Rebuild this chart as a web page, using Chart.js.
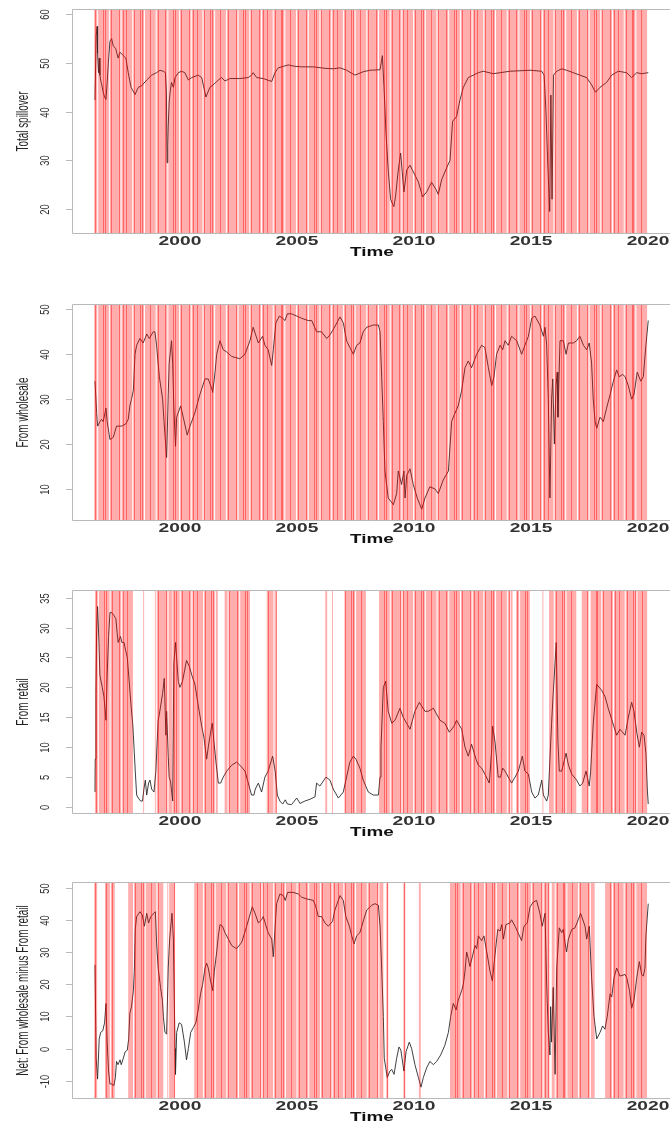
<!DOCTYPE html>
<html>
<head>
<meta charset="utf-8">
<script src="https://cdn.jsdelivr.net/npm/chart.js@4.4.1/dist/chart.umd.min.js"></script>
<style>
  body { margin: 0; background: #fff; width: 670px; height: 1124px; overflow: hidden; position: relative; }
  canvas { position: absolute; left: 0; }
</style>
</head>
<body>
<canvas id="pTotal" width="670" height="268" style="top:0px"></canvas>
<canvas id="pWholesale" width="670" height="260" style="top:295px"></canvas>
<canvas id="pRetail" width="670" height="267" style="top:581px"></canvas>
<canvas id="pNet" width="670" height="260" style="top:873px"></canvas>
<script>
// ---- series -------------------------------------------------------------
var timeTotal = [1996.37,1996.42,1996.46,1996.48,1996.52,1996.55,1996.58,1996.61,1996.66,1996.72,1996.78,1996.84,1996.89,1996.94,1997.01,1997.08,1997.15,1997.25,1997.36,1997.44,1997.58,1997.69,1997.79,1997.91,1998.08,1998.22,1998.36,1998.58,1998.79,1999.00,1999.15,1999.29,1999.38,1999.42,1999.45,1999.48,1999.50,1999.54,1999.58,1999.64,1999.72,1999.79,1999.93,2000.07,2000.21,2000.36,2000.50,2000.78,2000.93,2001.11,2001.28,2001.42,2001.64,2001.78,2001.92,2002.14,2002.56,2002.92,2003.06,2003.13,2003.28,2003.56,2003.92,2004.06,2004.20,2004.42,2004.63,2004.91,2005.20,2005.70,2006.20,2006.55,2006.84,2007.12,2007.48,2007.83,2008.12,2008.55,2008.65,2008.72,2008.80,2008.90,2009.00,2009.09,2009.14,2009.21,2009.33,2009.43,2009.57,2009.69,2009.83,2010.04,2010.19,2010.37,2010.54,2010.75,2010.94,2011.04,2011.18,2011.40,2011.54,2011.65,2011.82,2011.97,2012.11,2012.32,2012.54,2012.75,2012.96,2013.39,2013.68,2014.10,2014.96,2015.46,2015.56,2015.64,2015.72,2015.80,2015.85,2015.90,2015.96,2016.10,2016.31,2016.52,2016.81,2017.09,2017.38,2017.59,2017.76,2017.95,2018.23,2018.45,2018.73,2019.09,2019.30,2019.52,2019.73,2020.01];
var valTotal = [42.4,55.5,57.5,52,48,51,47.5,46.5,45.5,44,43,42.5,46,50,54.5,55,53.5,53,51,52.2,51.5,51,48,45,43.5,45,45.3,46.5,47.5,48,48.5,48.3,48,44,29.5,33,37,42,44,46,45,47,48,48.3,48,46.5,47,47.5,47,43,45,45.5,46.5,47,46.3,46.8,46.8,47,47.5,48,47,46.8,46.2,48,49,49.3,49.6,49.3,49.2,49.2,48.9,48.8,49,48.5,47.5,48.2,48.5,48.6,51.5,45,36,28,22,21,20.5,22.5,28,31.5,23.5,28,29,27,25.5,22.5,23.5,25.5,24,23,26,28.5,30,38,39,42.5,45,47,47.5,48,48.3,47.8,48,48.3,48.5,48.3,47.5,40,29,19.5,43.4,22,47.5,48.3,48.8,48.5,48,47.5,47,45.5,44,45,46,47.5,48.3,48,47,48,47.8,48];

var timeWholesale = [1996.37,1996.44,1996.48,1996.58,1996.65,1996.72,1996.84,1996.89,1997.01,1997.15,1997.29,1997.51,1997.69,1997.79,1997.86,1997.93,1998.01,1998.08,1998.15,1998.29,1998.43,1998.58,1998.69,1998.86,1998.93,1999.00,1999.12,1999.26,1999.32,1999.43,1999.50,1999.54,1999.64,1999.69,1999.74,1999.81,1999.86,2000.03,2000.14,2000.31,2000.43,2000.64,2000.85,2001.07,2001.21,2001.35,2001.40,2001.50,2001.57,2001.71,2001.85,2002.00,2002.21,2002.56,2002.78,2002.99,2003.13,2003.35,2003.53,2003.63,2003.77,2003.92,2003.99,2004.10,2004.25,2004.39,2004.49,2004.59,2004.77,2004.99,2005.20,2005.48,2005.63,2005.84,2006.05,2006.27,2006.41,2006.55,2006.84,2006.98,2007.12,2007.26,2007.41,2007.55,2007.69,2007.83,2007.98,2008.26,2008.48,2008.55,2008.62,2008.69,2008.76,2008.90,2009.12,2009.26,2009.33,2009.47,2009.57,2009.62,2009.69,2009.83,2009.97,2010.14,2010.33,2010.47,2010.68,2010.90,2011.04,2011.25,2011.47,2011.61,2011.68,2011.89,2012.04,2012.18,2012.32,2012.46,2012.68,2012.89,2013.03,2013.18,2013.32,2013.42,2013.53,2013.68,2013.79,2013.89,2014.03,2014.17,2014.39,2014.60,2014.74,2014.89,2015.03,2015.17,2015.38,2015.53,2015.60,2015.67,2015.74,2015.81,2015.88,2015.93,2016.00,2016.07,2016.12,2016.15,2016.24,2016.38,2016.50,2016.60,2016.81,2016.95,2017.09,2017.24,2017.38,2017.49,2017.59,2017.66,2017.74,2017.81,2017.95,2018.09,2018.23,2018.38,2018.52,2018.66,2018.77,2018.92,2019.02,2019.16,2019.30,2019.40,2019.54,2019.69,2019.80,2019.91,2020.01];
var valWholesale = [34,27,24,25,25.5,25,28,25,21,21.5,24,24,24.5,25.5,28.5,30,32,40,42,43.5,42.5,44.5,43.5,45,45,42,35,30,25,17,31,38,43,38,28,19.5,26,28.5,26,22,24,27,31,34.5,34.5,32.5,31.5,36,40,43,41,40.5,39.5,39,40,43,46,42.5,44,42,41,37.5,41,47,48.5,48,47.5,49,49,48.5,48,47.5,47.5,45,45,43.5,44.3,45.5,48.3,47,43,41.5,40,42,42.5,45,46,46.5,46.5,45,35,25,14,8,6.5,9,14,11,14,8,13,14.5,11,8,5.5,8,10.5,10,9,12,14,25,26,28.5,32,37,38.5,37,40,42,41.5,37,33,35,40,42,41,43,42,44,43,40,42,44,48,48.5,46.5,44,46,42,30,8,30,34.5,20,33,36,26,43,43,40,42.5,42.5,43,44,42,41,42.5,38,30,25,23.5,26,25,28,31,34,36.5,35,35.5,35,33,30,31,36,34,35,42,47.5];

var timeRetail = [1996.37,1996.38,1996.41,1996.44,1996.48,1996.54,1996.58,1996.68,1996.75,1996.84,1996.89,1996.95,1997.01,1997.08,1997.18,1997.26,1997.32,1997.36,1997.46,1997.52,1997.61,1997.69,1997.75,1997.83,1997.91,1997.98,1998.01,1998.05,1998.09,1998.15,1998.22,1998.32,1998.40,1998.46,1998.52,1998.58,1998.66,1998.72,1998.79,1998.89,1998.97,1999.07,1999.12,1999.26,1999.33,1999.40,1999.43,1999.50,1999.54,1999.60,1999.69,1999.74,1999.81,1999.93,2000.00,2000.11,2000.28,2000.40,2000.51,2000.64,2000.78,2000.93,2001.03,2001.14,2001.21,2001.31,2001.38,2001.45,2001.54,2001.64,2001.74,2001.85,2002.00,2002.21,2002.42,2002.56,2002.78,2002.92,2003.06,2003.16,2003.22,2003.35,2003.49,2003.63,2003.77,2003.96,2004.07,2004.16,2004.27,2004.39,2004.50,2004.59,2004.77,2004.99,2005.13,2005.34,2005.56,2005.77,2005.84,2005.98,2006.24,2006.41,2006.55,2006.77,2006.98,2007.12,2007.26,2007.41,2007.52,2007.69,2007.83,2008.05,2008.26,2008.48,2008.55,2008.59,2008.69,2008.79,2008.90,2009.05,2009.19,2009.40,2009.54,2009.83,2010.04,2010.23,2010.47,2010.61,2010.83,2011.11,2011.32,2011.51,2011.71,2011.82,2012.04,2012.18,2012.32,2012.46,2012.65,2012.75,2012.89,2013.03,2013.22,2013.32,2013.36,2013.46,2013.60,2013.70,2013.79,2013.89,2014.03,2014.17,2014.32,2014.46,2014.63,2014.74,2014.89,2015.03,2015.17,2015.31,2015.46,2015.53,2015.67,2015.74,2015.88,2015.95,2016.08,2016.15,2016.21,2016.31,2016.50,2016.60,2016.74,2016.95,2017.09,2017.21,2017.35,2017.49,2017.55,2017.66,2017.81,2018.02,2018.16,2018.30,2018.66,2018.80,2019.02,2019.16,2019.30,2019.40,2019.52,2019.63,2019.73,2019.83,2019.91,2019.97,2020.01];
var valRetail = [2.5,8,19,29.5,33.5,27.5,22,20,18.5,14.5,22,28.5,32.5,32.5,32,31.5,29,27.5,28.5,27.5,27.5,26,25,21,17,14,12,9,6,2,1.5,1,1,3,4.5,2,4,4.5,3,2.5,6,14.5,15.5,19,21.5,12,16,8.5,5,4.2,1,24,27.5,21,20,21,24.5,23.5,22,20.5,17,13.5,11.5,8,10,12.5,14,11,7.5,4,4,5,6,7,7.5,7,6,4,2,2,3,4,2.5,5,6,8.5,6,2,1,0.5,1.2,0.5,0.4,1.5,0.6,1,1.3,1.7,4,3.5,5,4.5,3,1.5,2.5,5,7.5,8.5,8,6.5,4.5,2.5,2,2,5,10,20,21,16,14,14.5,16.5,15,13,16,17.5,16,16,16.5,14.5,14,12.5,13.5,14.5,13,10,8.5,10.5,8,7,6.5,5.5,4,9.5,13.5,11,5,5,6.5,6,5,4,5,6,8.5,6,5.5,2.5,1.5,2,4.5,2,1,2,14,19,27.5,11,6,6,9,7,5.5,4.5,3.5,4,6,3.5,6,14,20.5,19.5,18.5,16.5,12,13,12,15,17.5,16,12.5,10,12.5,12,9,3,0.5];

var timeNet = [1996.37,1996.42,1996.48,1996.55,1996.61,1996.70,1996.78,1996.84,1996.89,1996.95,1997.01,1997.08,1997.18,1997.24,1997.29,1997.35,1997.44,1997.49,1997.58,1997.66,1997.75,1997.81,1997.86,1997.93,1998.01,1998.05,1998.09,1998.15,1998.29,1998.39,1998.48,1998.58,1998.66,1998.75,1998.89,1998.95,1999.00,1999.07,1999.17,1999.25,1999.29,1999.36,1999.43,1999.50,1999.56,1999.66,1999.72,1999.76,1999.79,1999.81,1999.86,1999.97,2000.07,2000.19,2000.28,2000.36,2000.46,2000.57,2000.68,2000.78,2000.88,2000.97,2001.07,2001.14,2001.21,2001.31,2001.40,2001.47,2001.57,2001.64,2001.71,2001.82,2001.92,2002.07,2002.21,2002.42,2002.64,2002.85,2003.09,2003.21,2003.35,2003.49,2003.56,2003.68,2003.77,2003.92,2003.99,2004.06,2004.13,2004.27,2004.42,2004.50,2004.60,2004.84,2005.06,2005.20,2005.41,2005.70,2005.81,2005.91,2006.05,2006.20,2006.34,2006.52,2006.62,2006.84,2006.98,2007.09,2007.24,2007.34,2007.44,2007.55,2007.69,2007.83,2007.98,2008.19,2008.33,2008.48,2008.55,2008.62,2008.69,2008.73,2008.86,2008.97,2009.05,2009.15,2009.26,2009.36,2009.44,2009.57,2009.66,2009.80,2009.90,2010.04,2010.19,2010.30,2010.40,2010.54,2010.68,2010.83,2010.97,2011.14,2011.32,2011.47,2011.57,2011.68,2011.80,2011.89,2012.04,2012.11,2012.18,2012.25,2012.32,2012.39,2012.51,2012.61,2012.68,2012.75,2012.89,2012.99,2013.11,2013.25,2013.35,2013.46,2013.58,2013.68,2013.75,2013.82,2013.93,2014.10,2014.17,2014.32,2014.60,2014.70,2014.84,2014.96,2015.10,2015.24,2015.38,2015.48,2015.60,2015.67,2015.74,2015.81,2015.84,2015.88,2015.95,2016.03,2016.10,2016.21,2016.31,2016.38,2016.45,2016.52,2016.60,2016.74,2016.88,2017.02,2017.12,2017.31,2017.38,2017.49,2017.59,2017.69,2017.81,2017.95,2018.06,2018.16,2018.26,2018.38,2018.45,2018.55,2018.66,2018.80,2019.02,2019.09,2019.21,2019.30,2019.40,2019.52,2019.63,2019.73,2019.80,2019.87,2019.91,2020.01];
var valNet = [26,-3,-9.5,3,5,5.5,8,14,2,-7,-11,-11,-11.5,-9,-4,-5,-3.5,-5,-3,-1,-0.5,3,11,13,18,24,37,41,42.5,41.5,38,42,39,41,42,42.5,33,25,19,15,10,5,4.5,25,34,42,34,14,0,-8,5,8,7.5,2,-3.5,0,5,6.5,8,12,17,20,25,26.5,25,21,18,24,30,35,38.5,38,36,34,32,31,33,38,44,42,39,40,41,38,36,34,28.5,37,45,48,47.5,46,48.5,48.5,48,47,46.5,46,44,41,41,39,38,39.5,43,47.5,46,41,38,35,32.5,35,36,39.5,43,44.5,45,44.5,38,25,10,-3,-9,-7,-6.5,-8,-3,0.5,-0.5,-7,-1,2,0,-5,-9,-12,-9,-6,-4,-5,-4,-2,1,5,10,14,12,15,18,20,24,30,28,25.5,29,32,31,35,33.5,35,30,24,21,29,37,36.5,38.5,34,38.5,39,40,38,33.5,38,39,44,45.5,46,42,38,42,20,5,-2,13,2,19,-8,25,37.5,36,37,33,30,34,37,37.5,40,42,38,34,38,22,10,3,5,7,6,10,17,16,22,25,22.5,23,22,18,12.5,15,22,27,23,22.5,25,35,45];

// shaded periods [from, to] in years, drawn month by month
var shadeTotal = [[1996.38, 2020.0]];
var shadeWholesale = [[1996.38, 2020.0]];
var shadeRetail = [[1996.41,1998.03],[1998.47,1998.47],[1998.97,1999.67],[1999.74,2001.64],[2001.95,2002.99],[2003.75,2004.10],[2006.25,2006.25],[2006.54,2006.54],[2007.07,2007.91],[2008.55,2014.10],[2014.17,2014.17],[2014.41,2014.91],[2015.53,2015.53],[2015.81,2016.95],[2017.21,2017.49],[2017.59,2019.97]];
var shadeNet = [[1996.38,1996.53],[1996.84,1997.24],[1997.83,1999.29],[1999.50,1999.82],[2000.65,2008.72],[2008.86,2008.86],[2009.59,2009.59],[2010.25,2010.33],[2011.58,2015.81],[2015.93,2017.74],[2018.21,2020.0]];

// ticks
var xTicks = [2000, 2005, 2010, 2015, 2020];
var yTicksTotal = [20, 30, 40, 50, 60];
var yTicksWholesale = [10, 20, 30, 40, 50];
var yTicksRetail = [0, 5, 10, 15, 20, 25, 30, 35];
var yTicksNet = [-10, 0, 10, 20, 30, 40, 50];

var panels = [
  { id: 'pTotal', title: 'Total spillover', t: timeTotal, v: valTotal, shade: shadeTotal, yTicks: yTicksTotal, ymin: 15.07, ymax: 60.88, plotH: 223 },
  { id: 'pWholesale', title: 'From wholesale', t: timeWholesale, v: valWholesale, shade: shadeWholesale, yTicks: yTicksWholesale, ymin: 3.1, ymax: 50.96, plotH: 215 },
  { id: 'pRetail', title: 'From retail', t: timeRetail, v: valRetail, shade: shadeRetail, yTicks: yTicksRetail, ymin: -1.0, ymax: 36.1, plotH: 222 },
  { id: 'pNet', title: 'Net: From wholesale minus From retail', t: timeNet, v: valNet, shade: shadeNet, yTicks: yTicksNet, ymin: -15.36, ymax: 51.42, plotH: 215 }
];

var MONTH = 1 / 12;

// shading over the line, then box, rotated y labels and stretched x labels
var decor = {
  id: 'decor',
  afterDatasetsDraw: function(chart) {
    var ctx = chart.ctx, a = chart.chartArea, x = chart.scales.x;
    var shade = chart.options.plugins.decor.shade;
    var h = a.bottom - a.top;
    var half = (x.getPixelForValue(2000 + MONTH) - x.getPixelForValue(2000)) / 2;
    ctx.save();
    ctx.beginPath();
    ctx.rect(a.left, a.top, a.right - a.left, h);
    ctx.clip();

    // pink base, one slot per month; every sixth month keeps a thin white gap
    var red = [];
    ctx.beginPath();
    shade.forEach(function(p) {
      for (var k = 0; p[0] + k * MONTH <= p[1] + 1e-6; k++) {
        var t = p[0] + k * MONTH;
        var m = Math.round(t * 12);
        var px = x.getPixelForValue(t);
        var w = (m % 6 === 0) ? 2 * half - 1 : 2 * half;
        ctx.rect(px - half, a.top, w, h);
        if (m % 4 === 1 || m % 9 === 4) red.push(px);
      }
    });
    ctx.fillStyle = 'rgba(255,0,0,0.32)';
    ctx.fill();

    ctx.fillStyle = 'rgba(255,0,0,0.42)';
    red.forEach(function(px) {
      ctx.fillRect(Math.round(px), a.top, 1, h);
    });
    ctx.restore();
  },
  afterDraw: function(chart) {
    var ctx = chart.ctx, a = chart.chartArea, x = chart.scales.x, y = chart.scales.y;
    var o = chart.options.plugins.decor;
    ctx.save();
    ctx.strokeStyle = '#b9b9b9';
    ctx.lineWidth = 1;
    ctx.beginPath();
    ctx.moveTo(670, a.top - 0.5);
    ctx.lineTo(a.left - 0.5, a.top - 0.5);
    ctx.lineTo(a.left - 0.5, a.bottom + 0.5);
    ctx.lineTo(670, a.bottom + 0.5);
    ctx.stroke();

    ctx.fillStyle = '#333';
    ctx.textAlign = 'center';
    ctx.textBaseline = 'middle';
    o.yTicks.forEach(function(v) {
      var py = Math.round(y.getPixelForValue(v)) + 0.5;
      ctx.beginPath();
      ctx.moveTo(a.left - 7, py);
      ctx.lineTo(a.left, py);
      ctx.stroke();
      ctx.save();
      ctx.translate(45, py);
      ctx.rotate(-Math.PI / 2);
      ctx.scale(0.72, 1);
      ctx.font = '13px "Liberation Sans", Arial, sans-serif';
      ctx.fillText(String(v), 0, 0);
      ctx.restore();
    });

    ctx.save();
    ctx.translate(24, (a.top + a.bottom) / 2);
    ctx.rotate(-Math.PI / 2);
    ctx.scale(0.62, 1);
    ctx.fillStyle = '#222';
    ctx.font = '16px "Liberation Sans", Arial, sans-serif';
    ctx.fillText(o.title, 0, 0);
    ctx.restore();

    xTicks.forEach(function(v) {
      ctx.save();
      ctx.translate(x.getPixelForValue(v), a.bottom + 8.5);
      ctx.scale(1.6, 1);
      ctx.fillStyle = '#333';
      ctx.font = 'bold 12px "Liberation Sans", Arial, sans-serif';
      ctx.fillText(String(v), 0, 0);
      ctx.restore();
    });

    ctx.save();
    ctx.translate(x.getPixelForValue(2008.2), a.bottom + 19.5);
    ctx.scale(1.45, 1);
    ctx.fillStyle = '#111';
    ctx.font = 'bold 13px "Liberation Sans", Arial, sans-serif';
    ctx.fillText('Time', 0, 0);
    ctx.restore();
    ctx.restore();
  }
};

panels.forEach(function(p) {
  var el = document.getElementById(p.id);
  new Chart(el.getContext('2d'), {
    type: 'line',
    data: {
      datasets: [{
        data: p.t.map(function(t, i) { return { x: t, y: p.v[i] }; }),
        borderColor: '#2a2a2a',
        borderWidth: 0.9,
        pointRadius: 0,
        tension: 0,
        fill: false
      }]
    },
    options: {
      responsive: false,
      animation: false,
      layout: { padding: { top: 10, bottom: el.height - 10 - p.plotH, left: 73, right: 0 } },
      scales: {
        x: { type: 'linear', min: 1995.43, max: 2020.94, display: false },
        y: { type: 'linear', min: p.ymin, max: p.ymax, display: false }
      },
      plugins: {
        legend: { display: false },
        tooltip: { enabled: false },
        decor: { shade: p.shade, yTicks: p.yTicks, title: p.title }
      }
    },
    plugins: [decor]
  });
});
</script>
</body>
</html>
